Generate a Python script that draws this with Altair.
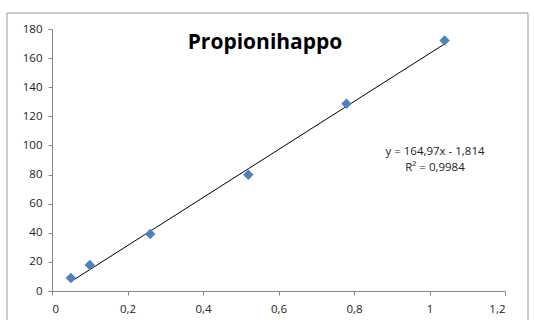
import altair as alt
import pandas as pd

# Data
conc = [0.05, 0.1, 0.26, 0.52, 0.78, 1.04]
area = [8.9, 17.9, 39.2, 79.8, 128.7, 172.1]
slope = 164.97
intercept = -1.814
eq_lines = ["y = 164,97x - 1,814", "R² = 0,9984"]
title_text = "Propionihappo"
x_ticks = [0, 0.2, 0.4, 0.6, 0.8, 1.0, 1.2]
y_ticks = list(range(0, 181, 20))

df = pd.DataFrame({"x": conc, "y": area})
FONT = "Open Sans"
AX = "#868686"

label_expr = "datum.value == 0 ? '0' : datum.value == 1 ? '1' : replace(format(datum.value, '.1f'), '.', ',')"

xaxis = alt.Axis(values=x_ticks, labelExpr=label_expr, title=None, grid=False,
                 domainColor=AX, tickColor=AX, tickSize=4, labelPadding=8,
                 labelOverlap=False,
                 labelFont=FONT, labelFontSize=11.5, labelColor="#222222")
yaxis = alt.Axis(values=y_ticks, title=None, grid=False,
                 domainColor=AX, tickColor=AX, tickSize=4, labelPadding=6,
                 labelOverlap=False,
                 labelFont=FONT, labelFontSize=11.5, labelColor="#222222")
xscale = alt.Scale(domain=[0, 1.2], nice=False)
yscale = alt.Scale(domain=[0, 180], nice=False)

base = alt.Chart(df)

border = alt.Chart(pd.DataFrame({"a": [0]})).mark_rect(
    fill=None, stroke="#9a9a9a", strokeWidth=1
).encode(x=alt.value(-45), x2=alt.value(476), y=alt.value(-16), y2=alt.value(300))

fit = base.transform_calculate(
    yfit=f"{slope} * datum.x + ({intercept})"
).mark_line(color="black", strokeWidth=1).encode(
    x=alt.X("x:Q", scale=xscale, axis=xaxis),
    y=alt.Y("yfit:Q", scale=yscale, axis=yaxis))

pts = base.mark_point(shape="diamond", filled=True, size=110, color="#4F81BD", opacity=1).encode(
    x=alt.X("x:Q", scale=xscale, axis=xaxis),
    y=alt.Y("y:Q", scale=yscale, axis=yaxis))

title = alt.Chart(pd.DataFrame({"t": [title_text]})).mark_text(
    font=FONT, fontSize=21, fontWeight="bold", color="black", baseline="middle"
).encode(x=alt.value(213), y=alt.value(14), text="t:N")

eq = alt.Chart(pd.DataFrame({"t": eq_lines, "py": [123, 139]})).mark_text(
    font=FONT, fontSize=11.5, color="#222222", baseline="middle"
).encode(x=alt.value(383), y=alt.Y("py:Q", scale=None), text="t:N")

chart = alt.layer(border, fit, pts, title, eq).properties(
    width=453, height=262,
    autosize=alt.AutoSizeParams(type="none"),
    padding={"left": 52, "top": 29, "right": 29, "bottom": 29},
    background="white",
).configure_view(stroke=None)

chart.save("out.html", embed_options={"renderer": "svg", "actions": False})
